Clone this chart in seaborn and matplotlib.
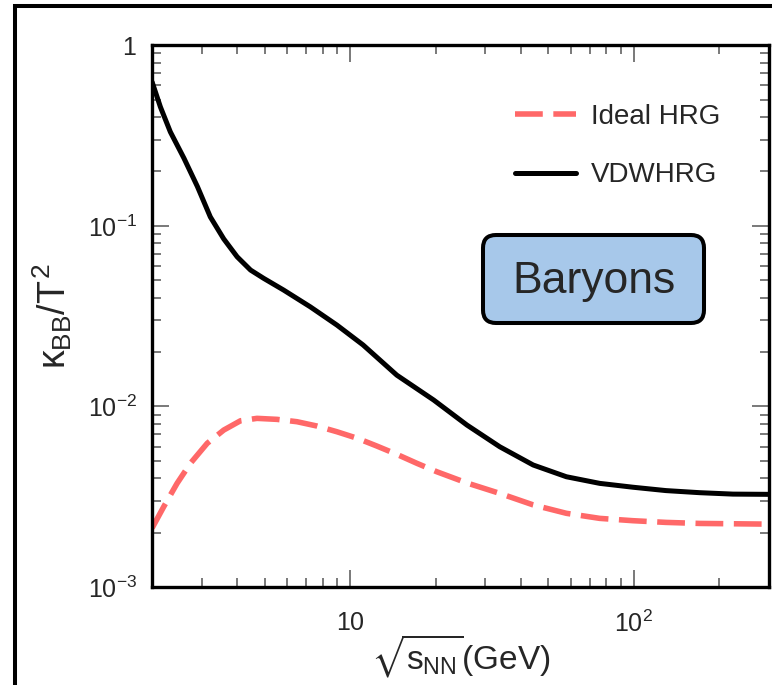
import matplotlib
matplotlib.use("Agg")
import matplotlib.pyplot as plt
import seaborn as sns
import numpy as np
import pandas as pd
from matplotlib.patches import Rectangle, FancyBboxPatch
from matplotlib.ticker import NullFormatter, LogLocator

# ---- data ----
vdw_x = [2.0, 2.14, 2.32, 2.59, 2.89, 3.21, 3.58, 3.99, 4.45, 4.95, 5.82, 7.23, 8.98,
         11.1, 14.6, 19.7, 25.8, 33.7, 44.2, 57.9, 75.9, 99.4, 130, 171, 224, 300]
vdw_y = [0.626, 0.455, 0.331, 0.237, 0.165, 0.112, 0.0846, 0.0674, 0.0569, 0.0512,
         0.0441, 0.0356, 0.0282, 0.0219, 0.0149, 0.01085, 0.00789, 0.00598, 0.00474,
         0.00408, 0.00375, 0.00357, 0.00342, 0.00333, 0.00327, 0.00326]

ideal_x = [2.0, 2.2, 2.45, 2.73, 3.13, 3.58, 4.1, 4.69, 5.52, 6.49, 7.63, 8.98, 10.6,
           12.4, 14.6, 17.2, 20.2, 25.8, 33.7, 44.2, 57.9, 75.9, 99.4, 130, 171, 300]
ideal_y = [0.00212, 0.00279, 0.00375, 0.00484, 0.00625, 0.0074, 0.00833, 0.00859,
           0.00848, 0.00823, 0.00779, 0.00724, 0.00666, 0.00604, 0.00543, 0.00484,
           0.00435, 0.00377, 0.0033, 0.00285, 0.00256, 0.0024, 0.00233, 0.00228,
           0.00225, 0.00223]

series_labels = ["Ideal HRG", "VDWHRG"]
xtick_vals = [10, 100]
xtick_labels = ["$10$", "$10^{2}$"]
ytick_vals = [1e-3, 1e-2, 1e-1, 1]
ytick_labels = ["$10^{-3}$", "$10^{-2}$", "$10^{-1}$", "$1$"]
box_label = "Baryons"

# ---- style ----
sns.set_style("ticks")
plt.rcParams["font.family"] = ["Liberation Sans", "DejaVu Sans"]
plt.rcParams["mathtext.fontset"] = "custom"
plt.rcParams["mathtext.rm"] = "Liberation Sans"
plt.rcParams["mathtext.it"] = "Liberation Sans"
plt.rcParams["mathtext.bf"] = "Liberation Sans:bold"
plt.rcParams["mathtext.sf"] = "Liberation Sans"
plt.rcParams["mathtext.fallback"] = "stixsans"

fig = plt.figure(figsize=(7.72, 6.85), dpi=100)
ax = fig.add_axes([0.197, 0.143, 0.799, 0.791])

df_ideal = pd.DataFrame({"x": ideal_x, "y": ideal_y})
df_vdw = pd.DataFrame({"x": vdw_x, "y": vdw_y})

sns.lineplot(data=df_ideal, x="x", y="y", ax=ax, color="#ff6868", lw=4.0,
             ls=(0, (5.0, 1.9)), label=series_labels[0],
             solid_joinstyle="round", dash_joinstyle="round")
sns.lineplot(data=df_vdw, x="x", y="y", ax=ax, color="black", lw=3.6,
             label=series_labels[1], solid_joinstyle="round")

ax.set_xscale("log")
ax.set_yscale("log")
ax.set_xlim(2, 300)
ax.set_ylim(1e-3, 1)

ax.set_xticks(xtick_vals, xtick_labels)
ax.set_yticks(ytick_vals, ytick_labels)
ax.xaxis.set_minor_locator(LogLocator(base=10, subs=np.arange(2, 10)))
ax.yaxis.set_minor_locator(LogLocator(base=10, subs=np.arange(2, 10)))
ax.xaxis.set_minor_formatter(NullFormatter())
ax.yaxis.set_minor_formatter(NullFormatter())

ax.tick_params(which="both", direction="in", top=True, right=True, color="#555555")
ax.tick_params(which="major", length=12.5, width=1.1, labelsize=18)
ax.tick_params(which="minor", length=6.5, width=1.1)
ax.tick_params(axis="x", which="major", pad=17)
ax.tick_params(axis="y", which="major", pad=11)

for sp in ax.spines.values():
    sp.set_linewidth(2.4)
    sp.set_color("black")

ax.set_xlabel(r"$\sqrt{s_{NN}}$(GeV)", fontsize=24, labelpad=-3)
ax.set_ylabel(r"$\kappa_{BB}/T^2$", fontsize=27, labelpad=10)

leg = ax.legend(loc="upper left", bbox_to_anchor=(0.588, 0.892), frameon=False,
                fontsize=20, handlelength=2.2, handletextpad=0.55,
                labelspacing=1.17, borderpad=0, borderaxespad=0)

# Baryons box
box = FancyBboxPatch((4.83, 3.62), 2.21, 0.88,
                     boxstyle="round,pad=0,rounding_size=0.13",
                     transform=fig.dpi_scale_trans, fc="#a7c8ea", ec="black",
                     lw=2.9, zorder=5)
fig.add_artist(box)
fig.text(594 / 772, 1 - 281 / 685, box_label, fontsize=32, ha="center",
         va="center", zorder=6)

# outer frame (partly cut off at right/bottom)
frame = Rectangle((14.7 / 772, -0.5), 2.0, 0.5 + (1 - 6 / 685), fill=False,
                  lw=2.9, ec="black", transform=fig.transFigure, clip_on=False,
                  zorder=10)
fig.add_artist(frame)

fig.savefig("out.png", dpi=100)
